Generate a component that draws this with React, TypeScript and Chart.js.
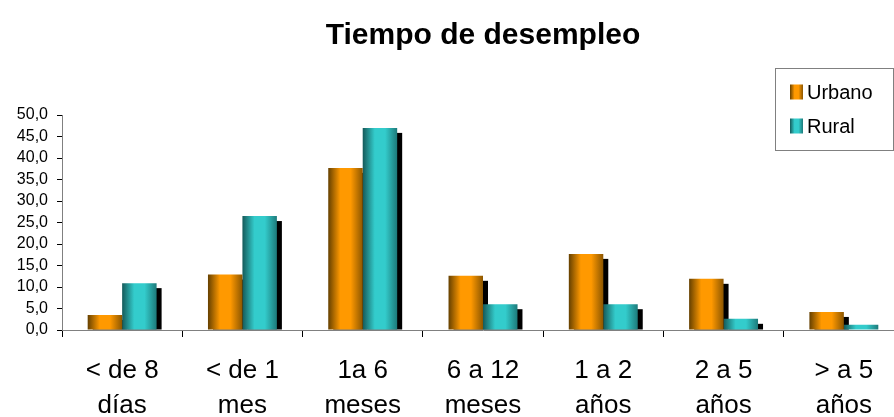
import React, { useEffect, useRef } from 'react';
import { Chart, registerables } from 'chart.js';

Chart.register(...registerables);

const chartTitle = 'Tiempo de desempleo';
const categories: string[][] = [
  ['< de 8', 'días'],
  ['< de 1', 'mes'],
  ['1a 6', 'meses'],
  ['6 a 12', 'meses'],
  ['1 a 2', 'años'],
  ['2 a 5', 'años'],
  ['> a 5', 'años'],
];
const seriesNames = ['Urbano', 'Rural'];
const urbano = [3.5, 12.9, 37.7, 12.6, 17.7, 11.9, 4.2];
const rural = [10.9, 26.5, 47.0, 6.0, 6.0, 2.6, 1.2];
const yTickLabels = ['0,0', '5,0', '10,0', '15,0', '20,0', '25,0', '30,0', '35,0', '40,0', '45,0', '50,0'];

const FONT = '"Liberation Sans", Arial, Helvetica, sans-serif';
const PALETTES = [
  ['#654000', '#ff9900', '#ff9900', '#8c5600'],
  ['#155a5a', '#33cccc', '#33cccc', '#1d7a7a'],
];
const MID = ['#ff9900', '#33cccc'];

function makeGrad(ctx: CanvasRenderingContext2D, x0: number, x1: number, pal: string[]) {
  const g = ctx.createLinearGradient(x0, 0, x1, 0);
  g.addColorStop(0, pal[0]);
  g.addColorStop(0.35, pal[1]);
  g.addColorStop(0.65, pal[2]);
  g.addColorStop(1, pal[3]);
  return g;
}

const barStyle = {
  id: 'barStyle',
  beforeDatasetsDraw(chart: any) {
    const ctx = chart.ctx as CanvasRenderingContext2D;
    const area = chart.chartArea;
    ctx.save();
    ctx.beginPath();
    ctx.rect(area.left, area.top, area.right - area.left, area.bottom - area.top);
    ctx.clip();
    ctx.fillStyle = '#000';
    chart.data.datasets.forEach((_ds: any, di: number) => {
      const meta = chart.getDatasetMeta(di);
      meta.data.forEach((el: any) => {
        const p = el.getProps(['x', 'y', 'base', 'width'], true);
        const left = p.x - p.width / 2;
        const top = p.y + 5;
        if (p.base - top > 0) ctx.fillRect(left + 5, top, p.width, p.base - top);
      });
    });
    ctx.restore();
    chart.data.datasets.forEach((_ds: any, di: number) => {
      const meta = chart.getDatasetMeta(di);
      meta.data.forEach((el: any) => {
        const p = el.getProps(['x', 'width'], true);
        const left = p.x - p.width / 2;
        try {
          el.options.backgroundColor = makeGrad(ctx, left, left + p.width, PALETTES[di]);
        } catch (e) {
          /* ignore */
        }
      });
    });
  },
};

const titleAndLegend = {
  id: 'titleAndLegend',
  afterDraw(chart: any) {
    const ctx = chart.ctx as CanvasRenderingContext2D;
    const area = chart.chartArea;
    ctx.save();
    ctx.fillStyle = '#000';
    ctx.font = `bold 30px ${FONT}`;
    ctx.textAlign = 'center';
    ctx.textBaseline = 'alphabetic';
    ctx.fillText(chartTitle, (area.left + area.right) / 2, 44);
    const bx = 775.5, by = 68.5, bw = 118, bh = 82;
    ctx.fillStyle = '#fff';
    ctx.fillRect(bx, by, bw, bh);
    ctx.strokeStyle = '#808080';
    ctx.lineWidth = 1;
    ctx.strokeRect(bx, by, bw, bh);
    ctx.font = `20px ${FONT}`;
    ctx.textAlign = 'left';
    ctx.textBaseline = 'middle';
    chart.data.datasets.forEach((ds: any, i: number) => {
      const cy = 92 + i * 34;
      ctx.fillStyle = makeGrad(ctx, 790, 803, PALETTES[i]);
      ctx.fillRect(790, cy - 7.5, 13, 15);
      ctx.fillStyle = '#000';
      ctx.fillText(ds.label, 807, cy + 1);
    });
    ctx.restore();
  },
};

export default function App() {
  const ref = useRef<HTMLCanvasElement | null>(null);
  useEffect(() => {
    if (!ref.current) return;
    const chart = new Chart(ref.current, {
      type: 'bar',
      data: {
        labels: categories,
        datasets: [
          {
            label: seriesNames[0],
            data: urbano,
            backgroundColor: () => MID[0],
            borderWidth: 0,
            categoryPercentage: 0.573,
            barPercentage: 1.0,
          },
          {
            label: seriesNames[1],
            data: rural,
            backgroundColor: () => MID[1],
            borderWidth: 0,
            categoryPercentage: 0.573,
            barPercentage: 1.0,
          },
        ],
      },
      options: {
        responsive: false,
        animation: false,
        layout: { padding: { top: 115, left: 0, right: 0, bottom: 0 } },
        plugins: {
          legend: { display: false },
          title: { display: false },
          tooltip: { enabled: false },
        },
        scales: {
          x: {
            grid: {
              display: true,
              drawOnChartArea: false,
              drawTicks: true,
              tickLength: 7,
              color: '#000',
              offset: true,
            },
            border: { display: true, color: '#808080', width: 1 },
            ticks: {
              font: { family: FONT, size: 26, lineHeight: 1.32 },
              color: '#000',
              padding: 17,
              maxRotation: 0,
              autoSkip: false,
            },
            afterFit: (s: any) => {
              s.height = 87;
            },
          },
          y: {
            min: 0,
            max: 50,
            ticks: {
              stepSize: 5,
              autoSkip: false,
              callback: (_v: any, i: number) => yTickLabels[i],
              font: { family: FONT, size: 16 },
              color: '#000',
              padding: 9,
            },
            grid: { drawOnChartArea: false, tickLength: 5, color: '#000' },
            border: { display: true, color: '#808080', width: 1 },
            afterFit: (s: any) => {
              s.width = 62;
            },
          },
        },
      },
      plugins: [barStyle, titleAndLegend],
    } as any);
    return () => chart.destroy();
  }, []);

  return (
    <div
      style={{
        position: 'fixed',
        left: 0,
        top: 0,
        width: 894,
        height: 417,
        overflow: 'hidden',
        background: '#fff',
      }}
    >
      <canvas ref={ref} width={904} height={417} style={{ display: 'block', width: 904, height: 417 }} />
    </div>
  );
}
